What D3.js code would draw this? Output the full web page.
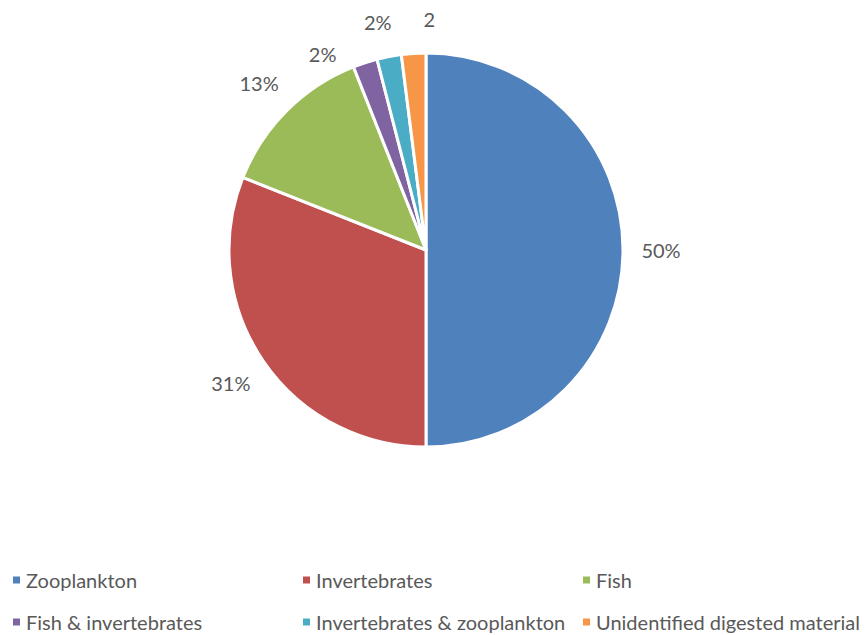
<!DOCTYPE html>
<html><head><meta charset="utf-8">
<script src="https://cdn.jsdelivr.net/npm/d3@7"></script>
<style>body{margin:0;background:#fff}svg{display:block}</style>
</head><body>
<script>
const categories = ["Zooplankton","Invertebrates","Fish","Fish & invertebrates","Invertebrates & zooplankton","Unidentified digested material"];
const values = [50,31,13,2,2,2];
const labelTexts = ["50%","31%","13%","2%","2%","2"];
const colors = ["#4F81BD","#C0504D","#9BBB59","#8064A2","#4BACC6","#F79646"];

const W=867,H=635;
const svg=d3.select("body").append("svg").attr("width",W).attr("height",H);
const cx=426, cy=250, R=197;
const g=svg.append("g").attr("transform",`translate(${cx},${cy})`);
const pie=d3.pie().sort(null).value(d=>d)(values);
const arc=d3.arc().innerRadius(0).outerRadius(R);
g.selectAll("path").data(pie).join("path")
  .attr("d",arc).attr("fill",(d,i)=>colors[i])
  .attr("stroke","#fff").attr("stroke-width",3).attr("stroke-linejoin","round");

// label placement (Excel best-fit style adjustments)
const labelR=[235,236,236,222,233,231];
const angAdj=[0,0,0,-0.17,-0.02,0];
const font="Lato, 'Open Sans', sans-serif";
g.selectAll("text.lbl").data(pie).join("text").attr("class","lbl")
  .attr("x",(d,i)=>{const a=(d.startAngle+d.endAngle)/2+angAdj[i];return Math.sin(a)*labelR[i];})
  .attr("y",(d,i)=>{const a=(d.startAngle+d.endAngle)/2+angAdj[i];return -Math.cos(a)*labelR[i];})
  .attr("text-anchor",(d,i)=>i===5?"start":"middle").attr("dx",(d,i)=>i===5?12:0)
  .attr("dominant-baseline","central")
  .attr("font-family",font).attr("font-size",20).attr("fill","#595959")
  .text((d,i)=>labelTexts[i]);

// legend
const leg=svg.append("g");
const colX=[13,303,583], rowY=[580,622];
categories.forEach((c,i)=>{
  const x=colX[i%3], y=rowY[Math.floor(i/3)];
  leg.append("rect").attr("x",x).attr("y",y-3.5).attr("width",7).attr("height",7).attr("fill",colors[i]);
  leg.append("text").attr("x",x+13).attr("y",y).attr("dominant-baseline","central")
    .attr("font-family",font).attr("font-size",20).attr("fill","#595959").text(c);
});
</script>
</body></html>
